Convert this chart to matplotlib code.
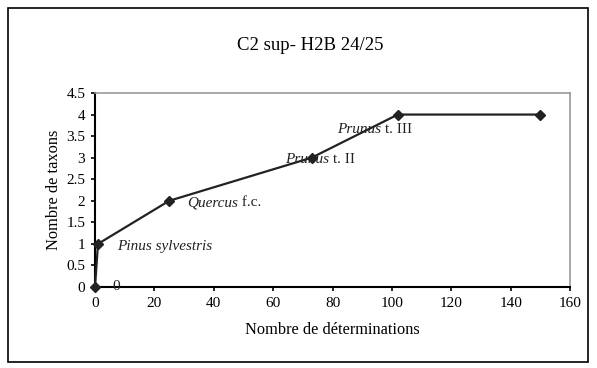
import matplotlib.pyplot as plt
import matplotlib as mpl
from matplotlib.patches import Rectangle

mpl.rcParams["font.family"] = "serif"
mpl.rcParams["font.serif"] = ["Liberation Serif", "DejaVu Serif"]

# data
determinations = [0, 1, 25, 73, 102, 150]
taxons = [0, 1, 2, 3, 4, 4]

# point annotations: (text parts, x, y)
label_x = [6, 7.5, 31, 64, 81.5]
label_y = [0.02, 0.95, 1.95, 2.95, 3.65]
label_italic = ["", "Pinus sylvestris", "Quercus", "Prunus", "Prunus"]
label_plain = ["0", "", " f.c.", " t. II", " t. III"]

fs = 11

fig = plt.figure(figsize=(5.97, 3.68), dpi=100)
fig.patches.append(Rectangle((8 / 597, 6 / 368), 580 / 597, 354 / 368,
                             transform=fig.transFigure, fill=False,
                             edgecolor="black", linewidth=1.2))

ax = fig.add_axes([95 / 597, 1 - 287 / 368, 475 / 597, 194 / 368])
ax.plot(determinations, taxons, color="#222222", linewidth=1.6,
        marker="D", markersize=5.5, clip_on=False, zorder=3)

ax.set_xlim(0, 160)
ax.set_ylim(0, 4.5)
ax.set_xticks(range(0, 161, 20))
ax.set_yticks([0, 0.5, 1, 1.5, 2, 2.5, 3, 3.5, 4, 4.5])
ax.set_yticklabels(["0", "0.5", "1", "1.5", "2", "2.5", "3", "3.5", "4", "4.5"])
ax.tick_params(labelsize=11, length=3, width=1.2, direction="out", pad=4)

for s in ["top", "right"]:
    ax.spines[s].set_color("#999999")
    ax.spines[s].set_linewidth(1.2)
for s in ["left", "bottom"]:
    ax.spines[s].set_color("black")
    ax.spines[s].set_linewidth(1.5)

ax.set_xlabel("Nombre de déterminations", fontsize=11.8, labelpad=9)
ax.set_ylabel("Nombre de taxons", fontsize=11.8, labelpad=3)
fig.text(0.5 + 12 / 597, 1 - 45 / 368, "C2 sup- H2B 24/25", ha="center",
         va="center", fontsize=13.5)

for xi, yi, it, pl in zip(label_x, label_y, label_italic, label_plain):
    if it:
        t = ax.text(xi, yi, it, fontstyle="italic", fontsize=fs,
                    va="center", ha="left", color="#222222")
        fig.canvas.draw()
        bb = t.get_window_extent()
        x_end = ax.transData.inverted().transform((bb.x1, bb.y0))[0]
        ax.text(x_end, yi, pl, fontsize=fs, va="center", ha="left",
                color="#222222")
    else:
        ax.text(xi, yi, pl, fontsize=fs, va="center", ha="left",
                color="#222222")

fig.savefig("out.png", dpi=100)
